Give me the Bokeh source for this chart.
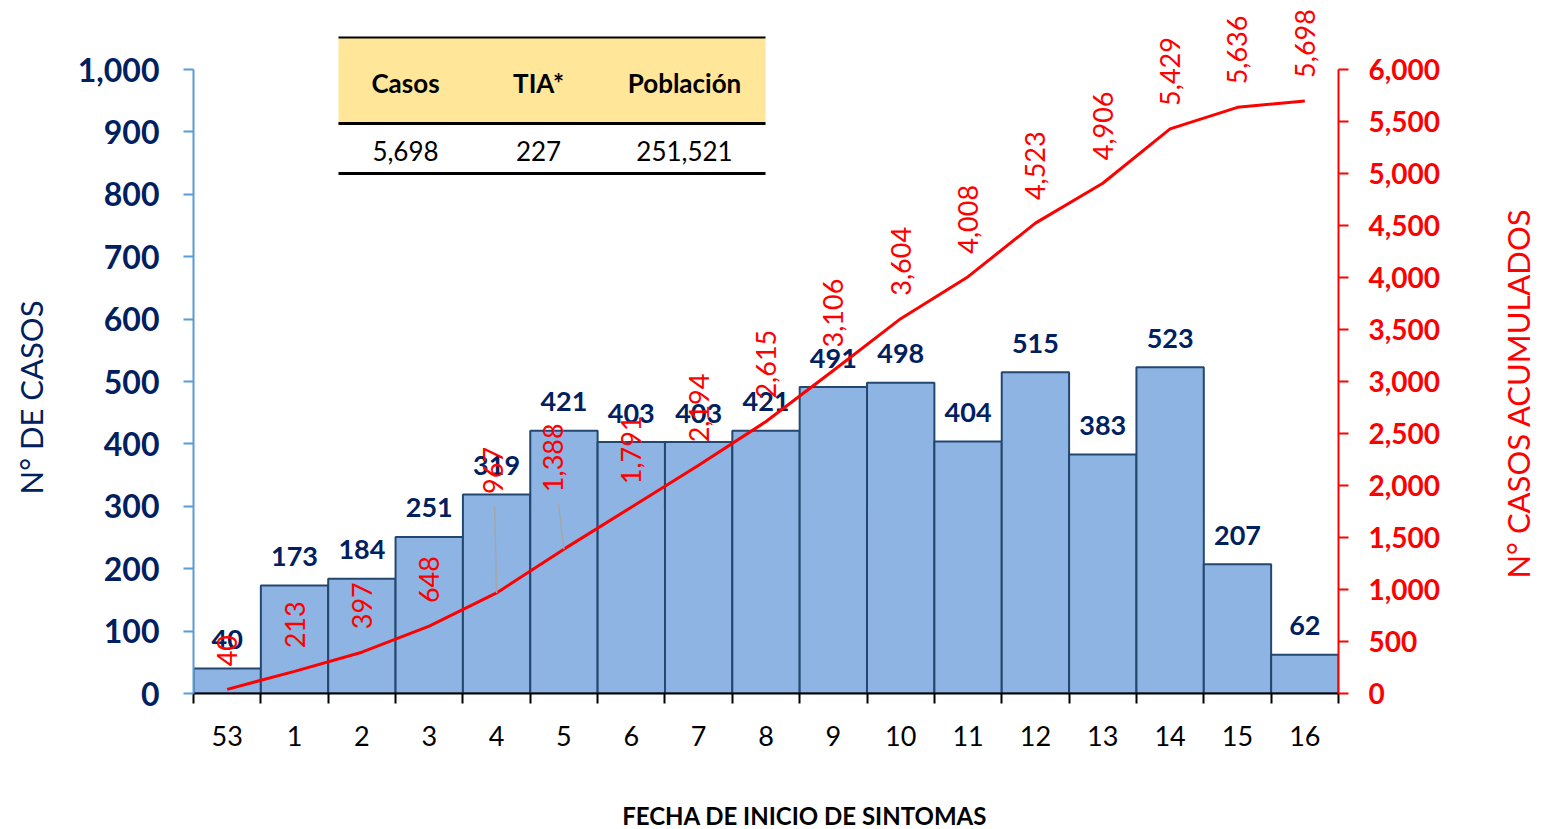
import math
from bokeh.plotting import figure
from bokeh.layouts import row, column
from bokeh.models import (Range1d, LinearAxis, FixedTicker, NumeralTickFormatter,
                          CustomJSTickFormatter, ColumnDataSource)
from bokeh.core.properties import value
from bokeh.embed import file_html
from bokeh.resources import INLINE

# ---------------- data ----------------
weeks = ["53", "1", "2", "3", "4", "5", "6", "7", "8", "9", "10", "11", "12", "13", "14", "15", "16"]
cases = [40, 173, 184, 251, 319, 421, 403, 403, 421, 491, 498, 404, 515, 383, 523, 207, 62]
cumulative = [40, 213, 397, 648, 967, 1388, 1791, 2194, 2615, 3106, 3604, 4008, 4523, 4906, 5429, 5636, 5698]
left_ticks = [0, 100, 200, 300, 400, 500, 600, 700, 800, 900, 1000]
right_ticks = [0, 500, 1000, 1500, 2000, 2500, 3000, 3500, 4000, 4500, 5000, 5500, 6000]
table_headers = ["Casos", "TIA*", "Población"]
table_values = ["5,698", "227", "251,521"]
y_title = "N° DE CASOS"
y2_title = "N° CASOS ACUMULADOS"
x_title = "FECHA DE INICIO DE SINTOMAS"

# label placement styles (screen px)
cum_label_dx = [0, 0, 0, 0, -4, -11, 0, 0, 0, 0, 0, 0, 0, 0, 0, 0, 0]
cum_label_dy = [23, 23, 23, 23, 99, 57, 23, 23, 23, 23, 23, 23, 23, 23, 23, 23, 23]

FONT = "Lato"
NAVY = "#002060"
RED = "#FF0000"

# ---------------- geometry ----------------
PAGE_W, PAGE_H = 1552, 829
LEFT_W, RIGHT_W = 60, 72
MAIN_W = PAGE_W - LEFT_W - RIGHT_W
MAIN_H = 770
BOTTOM_H = PAGE_H - MAIN_H
FRAME_L, FRAME_R, FRAME_B = 193, 1338, 693   # page px
BL = FRAME_L - LEFT_W
BR = LEFT_W + MAIN_W - FRAME_R
BT = 0
BB = MAIN_H - FRAME_B
frame_w = MAIN_W - BL - BR
frame_h = MAIN_H - BT - BB
px_per_case = 0.624
y_end = frame_h / px_per_case
y2_end = y_end * 6.0
n = len(weeks)
px_per_x = frame_w / n


def blank(w, h):
    f = figure(width=w, height=h, x_range=Range1d(0, w), y_range=Range1d(0, h),
               output_backend="svg", toolbar_location=None,
               min_border=0, min_border_left=0, min_border_right=0,
               min_border_top=0, min_border_bottom=0,
               x_axis_type=None, y_axis_type=None)
    f.outline_line_color = None
    f.xgrid.visible = False
    f.ygrid.visible = False
    return f


p = figure(width=MAIN_W, height=MAIN_H, x_range=Range1d(0, n), y_range=Range1d(0, y_end),
           output_backend="svg", toolbar_location=None,
           min_border_left=BL, min_border_right=BR, min_border_top=BT, min_border_bottom=BB,
           x_axis_type=None, y_axis_type=None)
p.extra_y_ranges = {"cum": Range1d(0, y2_end)}
p.outline_line_color = None
p.xgrid.visible = False
p.ygrid.visible = False

centers = [i + 0.5 for i in range(n)]
edges = list(range(n + 1))

src = ColumnDataSource(dict(x=centers, cases=cases, cum=cumulative,
                            clabel=[f"{v:,}" for v in cumulative],
                            blabel=[str(v) for v in cases],
                            dx=cum_label_dx, dy=[-d for d in cum_label_dy]))

# bars
p.vbar(x="x", top="cases", width=1.0, source=src, fill_color="#8DB4E2",
       line_color="#24476F", line_width=2)

# bar labels
p.text(x="x", y="cases", text="blabel", source=src, text_align="center",
       text_baseline="alphabetic", y_offset=-29, text_font=value(FONT),
       text_font_style="bold", text_font_size="27px", text_color=NAVY)

# cumulative line
p.line(x="x", y="cum", source=src, y_range_name="cum", line_color=RED, line_width=3)

# leader lines for displaced labels
lx0, ly0, lx1, ly1 = [], [], [], []
u2 = y2_end / frame_h
for i in range(n):
    if cum_label_dy[i] > 30:
        lx0.append(centers[i]); ly0.append(cumulative[i])
        lx1.append(centers[i] + cum_label_dx[i] / px_per_x * 0.5)
        ly1.append(cumulative[i] + (cum_label_dy[i] - 12) * u2)
p.segment(x0=lx0, y0=ly0, x1=lx1, y1=ly1, y_range_name="cum",
          line_color="#A6A6A6", line_width=1.5)

# cumulative labels (rotated)
p.text(x="x", y="cum", text="clabel", source=src, y_range_name="cum",
       angle=math.pi / 2, text_align="left", text_baseline="middle",
       x_offset="dx", y_offset="dy", text_font=value(FONT), text_font_size="27px",
       text_color=RED)

# ---------------- table ----------------
def sx(px):  # page x -> data x
    return (px - FRAME_L) / px_per_x


def sy(py):  # page y -> data y (left axis)
    return (FRAME_B - py) / px_per_case


t_left, t_right = sx(338), sx(765)
p.quad(left=[t_left], right=[t_right], bottom=[sy(123)], top=[sy(37)],
       fill_color="#FFE699", line_color=None)
p.segment(x0=[t_left], y0=[sy(37)], x1=[t_right], y1=[sy(37)], line_color="black", line_width=2)
p.segment(x0=[t_left, t_left], y0=[sy(123), sy(173)], x1=[t_right, t_right],
          y1=[sy(123), sy(173)], line_color="black", line_width=3)
col_x = [sx(405), sx(538), sx(684)]
p.text(x=col_x, y=[sy(82)] * 3, text=table_headers, text_align="center",
       text_baseline="middle", text_font=value(FONT), text_font_style="bold",
       text_font_size="26px", text_color="black")
p.text(x=col_x, y=[sy(150)] * 3, text=table_values, text_align="center",
       text_baseline="middle", text_font=value(FONT), text_font_size="26px",
       text_color="black")

# ---------------- axes ----------------
xaxis = LinearAxis(ticker=FixedTicker(ticks=centers, minor_ticks=edges),
                   formatter=CustomJSTickFormatter(args=dict(labels=weeks), code="return labels[index];"))
xaxis.axis_line_color = "black"
xaxis.axis_line_width = 2
xaxis.major_tick_line_color = None
xaxis.major_tick_out = 10
xaxis.major_tick_in = 0
xaxis.minor_tick_line_color = "black"
xaxis.minor_tick_line_width = 2
xaxis.minor_tick_out = 10
xaxis.minor_tick_in = 0
xaxis.major_label_standoff = 22
xaxis.major_label_text_font = FONT
xaxis.major_label_text_font_size = "27px"
xaxis.major_label_text_color = "black"
p.add_layout(xaxis, "below")

yaxis = LinearAxis(bounds=(0, 1000), ticker=FixedTicker(ticks=left_ticks),
                   formatter=NumeralTickFormatter(format="0,0"))
yaxis.axis_line_color = "#5B9BD5"
yaxis.axis_line_width = 2
yaxis.major_tick_line_color = "#5B9BD5"
yaxis.major_tick_line_width = 2
yaxis.major_tick_out = 10
yaxis.major_tick_in = 0
yaxis.minor_tick_line_color = None
yaxis.major_label_standoff = 24
yaxis.major_label_text_font = FONT
yaxis.major_label_text_font_style = "bold"
yaxis.major_label_text_font_size = "32px"
yaxis.major_label_text_color = NAVY
p.add_layout(yaxis, "left")

y2axis = LinearAxis(y_range_name="cum", bounds=(0, 6000), ticker=FixedTicker(ticks=right_ticks),
                    formatter=NumeralTickFormatter(format="0,0"))
y2axis.axis_line_color = RED
y2axis.axis_line_width = 2
y2axis.major_tick_line_color = RED
y2axis.major_tick_line_width = 2
y2axis.major_tick_out = 10
y2axis.major_tick_in = 0
y2axis.minor_tick_line_color = None
y2axis.major_label_standoff = 20
y2axis.major_label_text_font = FONT
y2axis.major_label_text_font_style = "bold"
y2axis.major_label_text_font_size = "28px"
y2axis.major_label_text_color = RED
p.add_layout(y2axis, "right")

# ---------------- axis titles (side panels) ----------------
left_fig = blank(LEFT_W, PAGE_H)
left_fig.text(x=[30], y=[PAGE_H - 397], text=[y_title], angle=math.pi / 2,
              text_align="center", text_baseline="middle", text_font=value(FONT),
              text_font_size="31px", text_color=NAVY)

right_fig = blank(RIGHT_W, PAGE_H)
right_fig.text(x=[1517 - LEFT_W - MAIN_W], y=[PAGE_H - 393], text=[y2_title], angle=math.pi / 2,
               text_align="center", text_baseline="middle", text_font=value(FONT),
               text_font_size="31px", text_color=RED)

bottom_fig = blank(MAIN_W, BOTTOM_H)
bottom_fig.text(x=[818 - LEFT_W], y=[PAGE_H - 815], text=[x_title],
                text_align="center", text_baseline="middle", text_font=value(FONT),
                text_font_style="bold", text_font_size="24px", text_color="black")

layout = row(left_fig, column(p, bottom_fig, spacing=0), right_fig, spacing=0)
open("out.html", "w").write(file_html(layout, INLINE))
